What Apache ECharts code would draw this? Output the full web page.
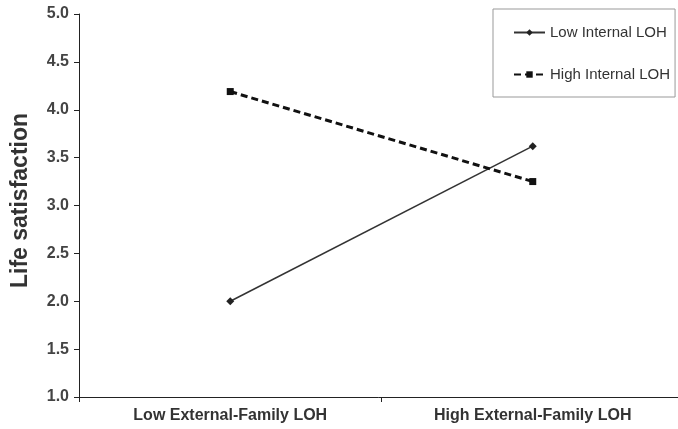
<!DOCTYPE html>
<html>
<head>
<meta charset="utf-8">
<script src="https://cdn.jsdelivr.net/npm/echarts@6/dist/echarts.min.js"></script>
<style>
html,body{margin:0;padding:0;background:#fff;}
#chart{width:678px;height:429px;}
</style>
</head>
<body>
<div id="chart"></div>
<script>
var categories = ['Low External-Family LOH', 'High External-Family LOH'];
var lowInternal = [2.0, 3.62];
var highInternal = [4.19, 3.25];
var yTicks = {min: 1, max: 5, interval: 0.5};

var chart = echarts.init(document.getElementById('chart'));
var font = 'Liberation Sans, Arial, sans-serif';
chart.setOption({
  animation: false,
  backgroundColor: '#fff',
  grid: {left: 79, width: 605, top: 14, height: 383, outerBoundsMode: 'none', containLabel: false},
  legend: {
    orient: 'vertical',
    left: 493, top: 9,
    padding: [16, 5, 15, 20],
    itemGap: 27,
    itemWidth: 31, itemHeight: 8,
    borderColor: '#999', borderWidth: 1,
    textStyle: {fontFamily: font, fontSize: 15, color: '#333'},
    data: ['Low Internal LOH', 'High Internal LOH']
  },
  xAxis: {
    type: 'category',
    data: categories,
    boundaryGap: true,
    axisLine: {lineStyle: {color: '#222', width: 1}},
    axisTick: {show: true, length: 5, lineStyle: {color: '#222'}},
    axisLabel: {fontFamily: font, fontSize: 16, fontWeight: 'bold', color: '#333', margin: 11}
  },
  yAxis: {
    type: 'value',
    min: yTicks.min, max: yTicks.max, interval: yTicks.interval,
    name: 'Life satisfaction',
    nameLocation: 'middle',
    nameGap: 47,
    nameTextStyle: {fontFamily: font, fontSize: 23, fontWeight: 'bold', color: '#333', padding: [0, 0, 0, 10]},
    splitLine: {show: false},
    axisLine: {show: true, lineStyle: {color: '#222', width: 1}},
    axisTick: {show: true, length: 5, lineStyle: {color: '#222'}},
    axisLabel: {fontFamily: font, fontSize: 16, fontWeight: 'bold', color: '#444', margin: 10,
      formatter: function (v) { return v.toFixed(1); }}
  },
  series: [
    {
      name: 'Low Internal LOH',
      type: 'line',
      data: lowInternal,
      symbol: 'diamond',
      symbolSize: 8,
      lineStyle: {color: '#333', width: 1.5, type: 'solid'},
      itemStyle: {color: '#222'}
    },
    {
      name: 'High Internal LOH',
      type: 'line',
      data: highInternal,
      symbol: 'rect',
      symbolSize: 7,
      lineStyle: {color: '#111', width: 3, type: [7, 4]},
      itemStyle: {color: '#111'}
    }
  ]
});
</script>
</body>
</html>
